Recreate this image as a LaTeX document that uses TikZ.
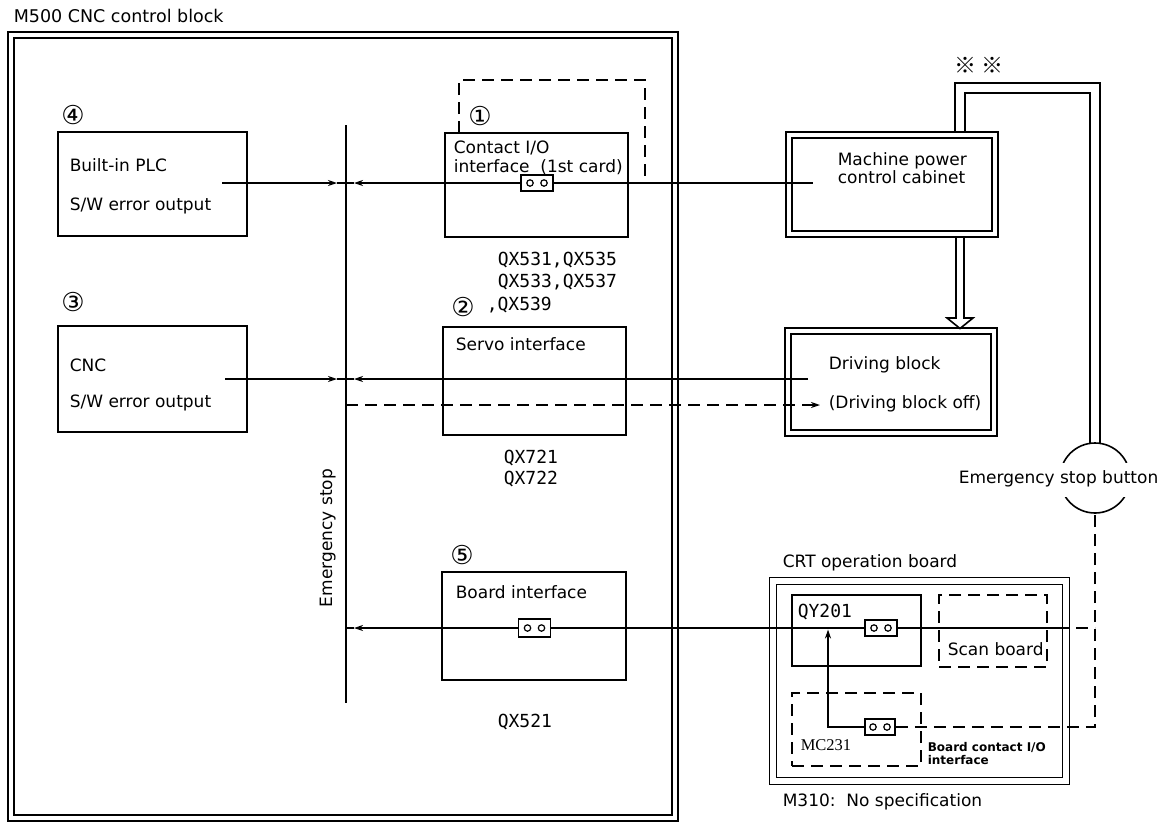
\documentclass[tikz,border=0pt]{standalone}
\usepackage{fontspec}
\setmainfont{DejaVu Sans}
\newfontfamily\monofont{DejaVu Sans Mono}
\newfontfamily\seriffont{Liberation Serif}
\newfontfamily\cjkfont{Noto Sans CJK JP}
\usetikzlibrary{arrows.meta, positioning}

\begin{document}
\begin{tikzpicture}[x=1pt,y=-1pt,line width=1.6pt,
 >={Stealth[length=9pt,width=6pt]},
 every node/.style={font=\fontsize{17}{20}\selectfont,inner sep=0pt},
 blk/.style 2 args={draw,minimum width=#1,minimum height=#2},
 dbl/.style 2 args={draw,double,double distance=4.4pt,minimum width=#1,minimum height=#2},
 dsh/.style={dash pattern=on 12pt off 7pt},
 con/.style={draw,fill=white,minimum width=32pt,minimum height=16pt,
  path picture={\draw[line width=1.2pt] (path picture bounding box.center)
   ++(-7pt,0pt) circle (3.2pt) ++(14pt,0pt) circle (3.2pt);}},
 num/.style={font=\fontsize{26}{26}\selectfont},
 lbl/.style={anchor=base west},
 mono/.style={font=\monofont\fontsize{18}{18}\selectfont,anchor=base west}]
 \useasboundingbox (0,0) rectangle (1161,823);
 % M500 block
 \node[dbl={664pt}{783pt}] (frame) at (343,426.5) {};
 \node[lbl,font=\fontsize{17.5}{20}\selectfont] (title) at (13,22) {M500 CNC control block};
 \node[blk={189pt}{104pt}] (plc) at (152.5,184) {};
 \node[blk={189pt}{106pt}] (cnc) at (152.5,379) {};
 \node[blk={183pt}{104pt}] (cio) at (536.5,185) {};
 \node[blk={183pt}{108pt}] (servo) at (534.5,381) {};
 \node[blk={184pt}{108pt}] (bif) at (534,626) {};
 \draw[dsh] (459,133) |- (645,80) -- (645,182);
 \node[num] (n4) at (73,115) {④};
 \node[num] (n3) at (73,302) {③};
 \node[num] (n1) at (480,116) {①};
 \node[num] (n2) at (463,307) {②};
 \node[num] (n5) at (462,555) {⑤};
 \node[lbl] (plct) at (69,171) {Built-in PLC};
 \node[below=39pt of plct.base west,anchor=base west] (plce) {S/W error output};
 \node[lbl] (cnct) at (69,371) {CNC};
 \node[below=36pt of cnct.base west,anchor=base west] (cnce) {S/W error output};
 \node[lbl] (ciot) at (453,153) {Contact I/O};
 \node[below=19pt of ciot.base west,anchor=base west] (ciot2) {interface\ \ (1st card)};
 \node[lbl] (servot) at (455,350) {Servo interface};
 \node[lbl] (bift) at (455,598) {Board interface};
 \node[mono] (qa) at (497,265) {QX531,QX535};
 \node[mono,below=22pt of qa.base west,anchor=base west] (qb) {QX533,QX537};
 \node[mono] (qc) at (486,310) {,QX539};
 \node[mono] (qd) at (503,463) {QX721};
 \node[mono,below=21pt of qd.base west,anchor=base west] (qe) {QX722};
 \node[mono] (qf) at (497,727) {QX521};
 \node[rotate=90,anchor=base] (estop) at (332,538) {Emergency stop};
 % outside blocks
 \node[dbl={206pt}{99pt}] (cab) at (892,184.5) {};
 \node[dbl={206pt}{102pt}] (drv) at (891,382) {};
 \node[dbl={293pt}{200pt},double distance=5.4pt] (crt) at (919.5,681) {};
 \node[blk={129pt}{71pt}] (qy) at (856.5,630.5) {};
 \node[blk={108pt}{72pt},dsh] (scan) at (993,631) {};
 \node[blk={129pt}{73pt},dsh] (mc) at (856.5,729.5) {};
 \node[lbl] (cabt) at (837,165) {Machine power};
 \node[below=18pt of cabt.base west,anchor=base west] (cabt2) {control cabinet};
 \node[lbl] (drvt) at (828,369) {Driving block};
 \node[below=39pt of drvt.base west,anchor=base west] (drvt2) {(Driving block off)};
 \node[lbl] (crtt) at (782,567) {CRT operation board};
 \node[lbl] (m310) at (782,806) {M310:\ \ No specification};
 \node[mono] (qyt) at (797,617) {QY201};
 \node[lbl] (scant) at (947,655) {Scan board};
 \node[lbl,font=\seriffont\fontsize{16.5}{16}\selectfont] (mct) at (800,750) {MC231};
 \node[lbl,font=\bfseries\fontsize{12}{12}\selectfont] (bct) at (927,751) {Board contact I/O};
 \node[lbl,font=\bfseries\fontsize{12}{12}\selectfont] (bct2) at (927,764) {interface};
 \node[font=\cjkfont\fontsize{22}{22}\selectfont] (mark) at (978.5,65) {※\hspace{5pt}※};
 \node[circle,minimum size=70pt,outer sep=0pt] (esb) at (1095,478) {};
 \node[lbl] (esbt) at (958,483) {Emergency stop button};
 \begin{scope}
  \clip (1050,420) rectangle (1140,462);
  \draw (esb.center) circle (35pt);
 \end{scope}
 \begin{scope}
  \clip (1050,497) rectangle (1140,530);
  \draw (esb.center) circle (35pt);
 \end{scope}
 % contacts
 \node[con] (ciocon) at (537,183) {};
 \node[con,minimum height=18pt] (bicon) at (534.5,628) {};
 \node[con] (qycon) at (881,628) {};
 \node[con,minimum width=30pt] (mccon) at (880,727) {};
 % emergency stop line
 \coordinate (busT) at (346,125);
 \coordinate (busB) at (346,703);
 \draw (busT) -- (busB);
 \coordinate (p4) at (222,183);
 \coordinate (a1) at (337,183);
 \coordinate (b1) at (354,183);
 \coordinate (c1) at (813,183);
 \draw[->] (p4) -- (a1);
 \draw (a1) -- (b1);
 \draw[->] (ciocon) -- (b1);
 \draw (ciocon) -- (c1);
 \coordinate (p3) at (225,379);
 \coordinate (a2) at (337,379);
 \coordinate (b2) at (354,379);
 \coordinate (d2) at (808,379);
 \draw[->] (p3) -- (a2);
 \draw (a2) -- (b2);
 \draw[->] (d2) -- (b2);
 \coordinate (e2) at (346,405);
 \coordinate (f2) at (820,405);
 \draw[->,dsh] (e2) -- (f2);
 \coordinate (b3) at (354,628);
 \coordinate (g3) at (346,628);
 \draw[->] (bicon) -- (b3);
 \draw (b3) -- (g3);
 \draw (bicon) -- (qycon);
 \coordinate (h3) at (1057,628);
 \coordinate (k3) at (1095,628);
 \draw (qycon) -- (h3);
 \draw[dsh] (h3) -- (k3);
 \coordinate (m1) at (828,629.5);
 \draw[->] (mccon) -| (m1);
 \draw[dsh] (mccon) -| (esb.south);
 % cabinet to driving block, cabinet to button
 \coordinate (ha) at (956,237.5);
 \coordinate (hb) at (964,237.5);
 \coordinate (ht) at (960,328.5);
 \draw (ha) -- (956,318) -- (947,318) -- (ht) -- (973,318) -- (964,318) -- (hb);
 \coordinate (la) at (955,132.5);
 \coordinate (lb) at (965,132.5);
 \coordinate (lc) at (1100,443.5);
 \coordinate (ld) at (1090,443.5);
 \draw (la) |- (1100,83) -- (lc);
 \draw (lb) |- (1090,93) -- (ld);
\end{tikzpicture}
\end{document}
